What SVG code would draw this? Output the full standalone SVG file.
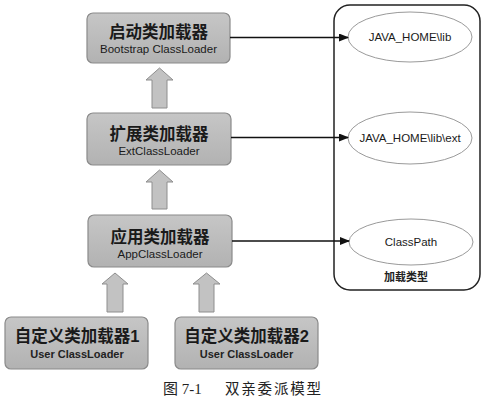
<svg xmlns="http://www.w3.org/2000/svg" width="484" height="402" viewBox="0 0 484 402">
<style>
.box{fill:url(#g);stroke:#8a8a8a;stroke-width:1.2}
.t{font-family:"Noto Sans CJK SC","Liberation Sans",sans-serif;font-weight:bold;font-size:16.5px;fill:#1a1a1a;text-anchor:middle}
.s{font-family:"Liberation Sans",Arial,sans-serif;font-size:11.5px;fill:#1a1a1a;text-anchor:middle}
.ut{font-family:"Liberation Sans","Noto Sans CJK SC",sans-serif;font-weight:bold;font-size:16.5px;fill:#1a1a1a;text-anchor:middle}
.us{font-family:"Liberation Sans",Arial,sans-serif;font-size:11px;font-weight:bold;fill:#222;text-anchor:middle}
.up{fill:#c2c2c2;stroke:#8e8e8e;stroke-width:1}
.ell{fill:#fff;stroke:#9a9a9a;stroke-width:1}
.et{font-family:"Liberation Sans",Arial,sans-serif;font-size:11.5px;fill:#1a1a1a;text-anchor:middle}
.ln{stroke:#111;stroke-width:1.3;fill:none}
</style>
<defs>
<linearGradient id="g" x1="0" y1="0" x2="0" y2="1">
<stop offset="0" stop-color="#c6c6c6"/>
<stop offset="1" stop-color="#b2b2b2"/>
</linearGradient>
<marker id="ah" markerWidth="10" markerHeight="8" refX="9" refY="4" orient="auto" markerUnits="userSpaceOnUse">
<path d="M0,0 L10,4 L0,8 Z" fill="#111"/>
</marker>
</defs>
<rect width="484" height="402" fill="#fff"/>

<g id="container">
<rect x="334" y="5" width="146" height="285" rx="16" ry="16" fill="#fff" stroke="#222" stroke-width="1.5"/>
<text x="406" y="281" style="font-family:'Noto Sans CJK SC',sans-serif;font-size:11px;font-weight:bold;fill:#222;text-anchor:middle">加载类型</text>
</g>

<g id="bootstrap">
<rect class="box" x="87" y="13" width="143" height="50" rx="6"/>
<text class="t" x="158.5" y="38">启动类加载器</text>
<text class="s" x="158.5" y="53">Bootstrap ClassLoader</text>
</g>
<g id="ext">
<rect class="box" x="87" y="113" width="144" height="52" rx="6"/>
<text class="t" x="159" y="140">扩展类加载器</text>
<text class="s" x="159" y="155">ExtClassLoader</text>
</g>
<g id="app">
<rect class="box" x="88" y="215" width="144" height="52" rx="6"/>
<text class="t" x="160" y="243">应用类加载器</text>
<text class="s" x="160" y="258">AppClassLoader</text>
</g>
<g id="user1">
<rect class="box" x="5" y="317" width="143" height="52" rx="6"/>
<text class="ut" x="77" y="342">自定义类加载器1</text>
<text class="us" x="77" y="358">User ClassLoader</text>
</g>
<g id="user2">
<rect class="box" x="175" y="317" width="143" height="52" rx="6"/>
<text class="ut" x="246.5" y="342">自定义类加载器2</text>
<text class="us" x="246.5" y="358">User ClassLoader</text>
</g>

<g id="lib">
<ellipse class="ell" cx="410" cy="37" rx="62" ry="25"/>
<text class="et" x="410" y="41">JAVA_HOME\lib</text>
</g>
<g id="libext">
<ellipse class="ell" cx="410" cy="138" rx="62" ry="26"/>
<text class="et" x="410" y="142">JAVA_HOME\lib\ext</text>
</g>
<g id="classpath">
<ellipse class="ell" cx="411" cy="242" rx="62" ry="23"/>
<text class="et" x="411" y="246">ClassPath</text>
</g>

<g id="connectors">
<path class="up" d="M159.5,68 L173,80 L167,80 L167,108 L152,108 L152,80 L146,80 Z"/>
<path class="up" d="M159.5,170 L173,182 L167,182 L167,209 L152,209 L152,182 L146,182 Z"/>
<path class="up" d="M115,273 L128,284 L123,284 L123,312 L107,312 L107,284 L102,284 Z"/>
<path class="up" d="M206.5,273 L220,284 L214,284 L214,312 L199,312 L199,284 L193,284 Z"/>
<line class="ln" x1="230" y1="37.5" x2="348" y2="37.5" marker-end="url(#ah)"/>
<line class="ln" x1="231" y1="137.5" x2="348" y2="137.5" marker-end="url(#ah)"/>
<line class="ln" x1="232" y1="241" x2="349" y2="241" marker-end="url(#ah)"/>
</g>

<g id="caption">
<text x="163" y="394" style="font-family:'Liberation Serif','Noto Sans CJK SC',serif;font-size:15px;fill:#222">图 7-1</text>
<text x="225" y="394" style="font-family:'Noto Sans CJK SC',serif;font-size:14.5px;fill:#222;letter-spacing:1.8px">双亲委派模型</text>
</g>
</svg>
